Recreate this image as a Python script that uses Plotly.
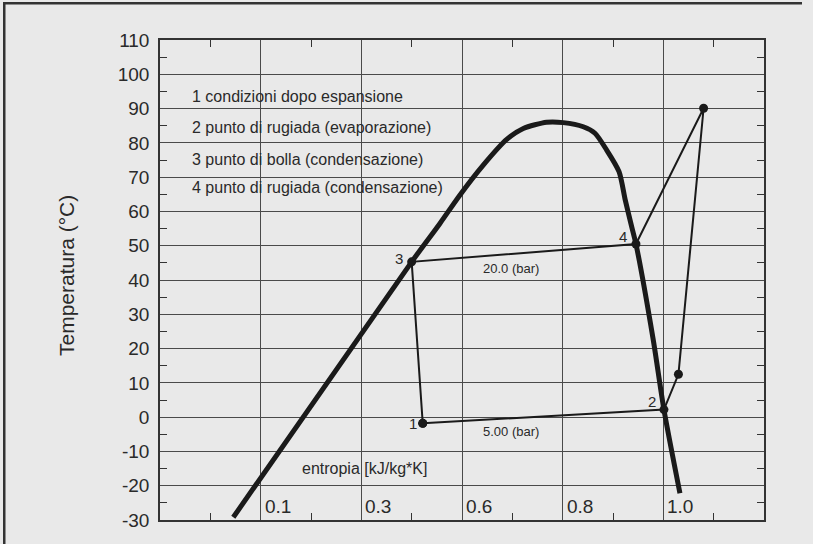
import plotly.graph_objects as go

# ---- data (x = position on the entropy axis, grid units; y = temperature °C) ----
dome_s = [0.728, 2.500, 2.781, 2.980, 3.211, 3.444, 3.609, 3.841, 4.006,
          4.205, 4.321, 4.437, 4.560, 4.622, 4.686, 4.728, 4.900, 5.006, 5.165]
dome_T = [-29.2, 45.3, 56.5, 64.8, 73.5, 81.0, 84.2, 86.0, 85.9,
          84.7, 82.8, 77.9, 71.6, 63.3, 55.5, 50.5, 22.5, 2.2, -22.2]

# cycle: 1 -> 2 -> (compression mid) -> 6 (discharge) -> 4 -> 3 -> 1
cycle_s = [2.61, 5.006, 5.15, 5.40, 4.728, 2.500, 2.61]
cycle_T = [-1.8, 2.2, 12.5, 90.1, 50.5, 45.3, -1.8]

point_names = ["1", "2", "3", "4"]
point_s = [2.61, 5.006, 2.500, 4.728]
point_T = [-1.8, 2.2, 45.3, 50.5]

x_tickvals = [1, 2, 3, 4, 5]
x_ticktext = ["0.1", "0.3", "0.6", "0.8", "1.0"]
y_tickvals = [-30, -20, -10, 0, 10, 20, 30, 40, 50, 60, 70, 80, 90, 100, 110]
y_ticktext = ["-30", "-20", "-10", "0", "10", "20", "30", "40", "50", "60",
              "70", "80", "90", "100", "110"]

legend_lines = ["1 condizioni dopo espansione",
                "2 punto di rugiada (evaporazione)",
                "3 punto di bolla (condensazione)",
                "4 punto di rugiada (condensazione)"]
pressure_labels = ["20.0 (bar)", "5.00 (bar)"]
x_title = "entropia [kJ/kg*K]"
y_title = "Temperatura (°C)"

# ---- figure ----
W, H = 813, 544
ML, MR, MT, MB = 160, 49, 40, 24
PW, PH = W - ML - MR, H - MT - MB
FONT = "Liberation Sans, Arial, Helvetica, sans-serif"
INK = "#1a1a1a"
TXT = "#2a2a2a"
BG = "#e9e9e9"

fig = go.Figure()
fig.add_trace(go.Scatter(x=dome_s, y=dome_T, mode="lines",
                         line=dict(color=INK, width=5, shape="spline", smoothing=0.7),
                         hoverinfo="skip", showlegend=False))
fig.add_trace(go.Scatter(x=cycle_s, y=cycle_T, mode="lines+markers",
                         line=dict(color=INK, width=2),
                         marker=dict(color=INK, size=9),
                         hoverinfo="skip", showlegend=False))

annotations = []
# x tick labels, drawn inside the plot just right of each grid line
for v, t in zip(x_tickvals, x_ticktext):
    annotations.append(dict(x=v, y=0, xref="x", yref="paper", text=t, showarrow=False,
                            xanchor="left", yanchor="bottom", xshift=2, yshift=1,
                            font=dict(family=FONT, size=19, color=TXT)))
# point number labels (offset from their points)
offsets = [(-10, 0), (-12, 8), (-13, 3), (-13, 8)]
for name, s, t, (dx, dy) in zip(point_names, point_s, point_T, offsets):
    annotations.append(dict(x=s, y=t, xref="x", yref="y", text=name, showarrow=False,
                            xshift=dx, yshift=dy,
                            font=dict(family=FONT, size=15, color=TXT)))
# legend text lines
legend_y = [93.5, 84.4, 75.2, 67.0]
for line, ly in zip(legend_lines, legend_y):
    annotations.append(dict(x=0.298, y=ly, xref="x", yref="y", text=line, showarrow=False,
                            xanchor="left", yanchor="middle",
                            font=dict(family=FONT, size=16, color=TXT)))
# pressure labels
for lab, py in zip(pressure_labels, [43.4, -4.2]):
    annotations.append(dict(x=3.484, y=py, xref="x", yref="y", text=lab, showarrow=False,
                            font=dict(family=FONT, size=13, color=TXT)))
# x title (inside plot)
annotations.append(dict(x=2.031, y=-15.1, xref="x", yref="y", text=x_title, showarrow=False,
                        font=dict(family=FONT, size=16, color=TXT)))
# y title
annotations.append(dict(x=(66 - ML) / PW, y=(H - MB - 276) / PH, xref="paper", yref="paper",
                        xanchor="center", yanchor="middle",
                        text=y_title, textangle=-90, showarrow=False,
                        font=dict(family=FONT, size=21, color=TXT)))

# outer frame (left & top only, as in the cropped original) drawn as thin filled bars
px2x = lambda px: (px - ML) / PW
py2y = lambda py: (H - MB - py) / PH
shapes = [
    dict(type="rect", xref="paper", yref="paper", layer="above",
         x0=px2x(3), x1=px2x(5.5), y0=py2y(H), y1=py2y(2),
         fillcolor="#333", line=dict(width=0)),
    dict(type="rect", xref="paper", yref="paper", layer="above",
         x0=px2x(3), x1=px2x(802), y0=py2y(4.5), y1=py2y(2),
         fillcolor="#333", line=dict(width=0)),
]

fig.update_layout(
    width=W, height=H,
    margin=dict(l=ML, r=MR, t=MT, b=MB, autoexpand=False),
    paper_bgcolor=BG, plot_bgcolor=BG,
    font=dict(family=FONT, color=TXT),
    annotations=annotations, shapes=shapes,
    showlegend=False,
    xaxis=dict(range=[0, 6], tickmode="array", tickvals=x_tickvals,
               ticks="", showticklabels=False,
               showgrid=True, gridcolor="#4a4a4a", gridwidth=1, zeroline=False,
               showline=True, linecolor="#333", linewidth=1.5, mirror="allticks",
               minor=dict(tickmode="linear", tick0=0.5, dtick=1, ticks="inside",
                          ticklen=7, tickwidth=1.2, tickcolor="#333", showgrid=False),
               fixedrange=True),
    yaxis=dict(range=[-30, 110], tickmode="array", tickvals=y_tickvals, ticktext=y_ticktext,
               ticks="", ticklabelstandoff=5,
               tickfont=dict(family=FONT, size=19, color=TXT),
               showgrid=True, gridcolor="#4a4a4a", gridwidth=1, zeroline=False,
               showline=True, linecolor="#333", linewidth=1.5, mirror="allticks",
               minor=dict(tickmode="linear", tick0=-25, dtick=10, ticks="inside",
                          ticklen=7, tickwidth=1.2, tickcolor="#333", showgrid=False),
               fixedrange=True),
)

fig.write_html("out.html", config={"displayModeBar": False},
               post_script="document.body.style.margin='0';document.body.style.overflow='hidden';"
                           "document.documentElement.style.overflow='hidden';"
                           "document.body.style.background='" + BG + "';")
